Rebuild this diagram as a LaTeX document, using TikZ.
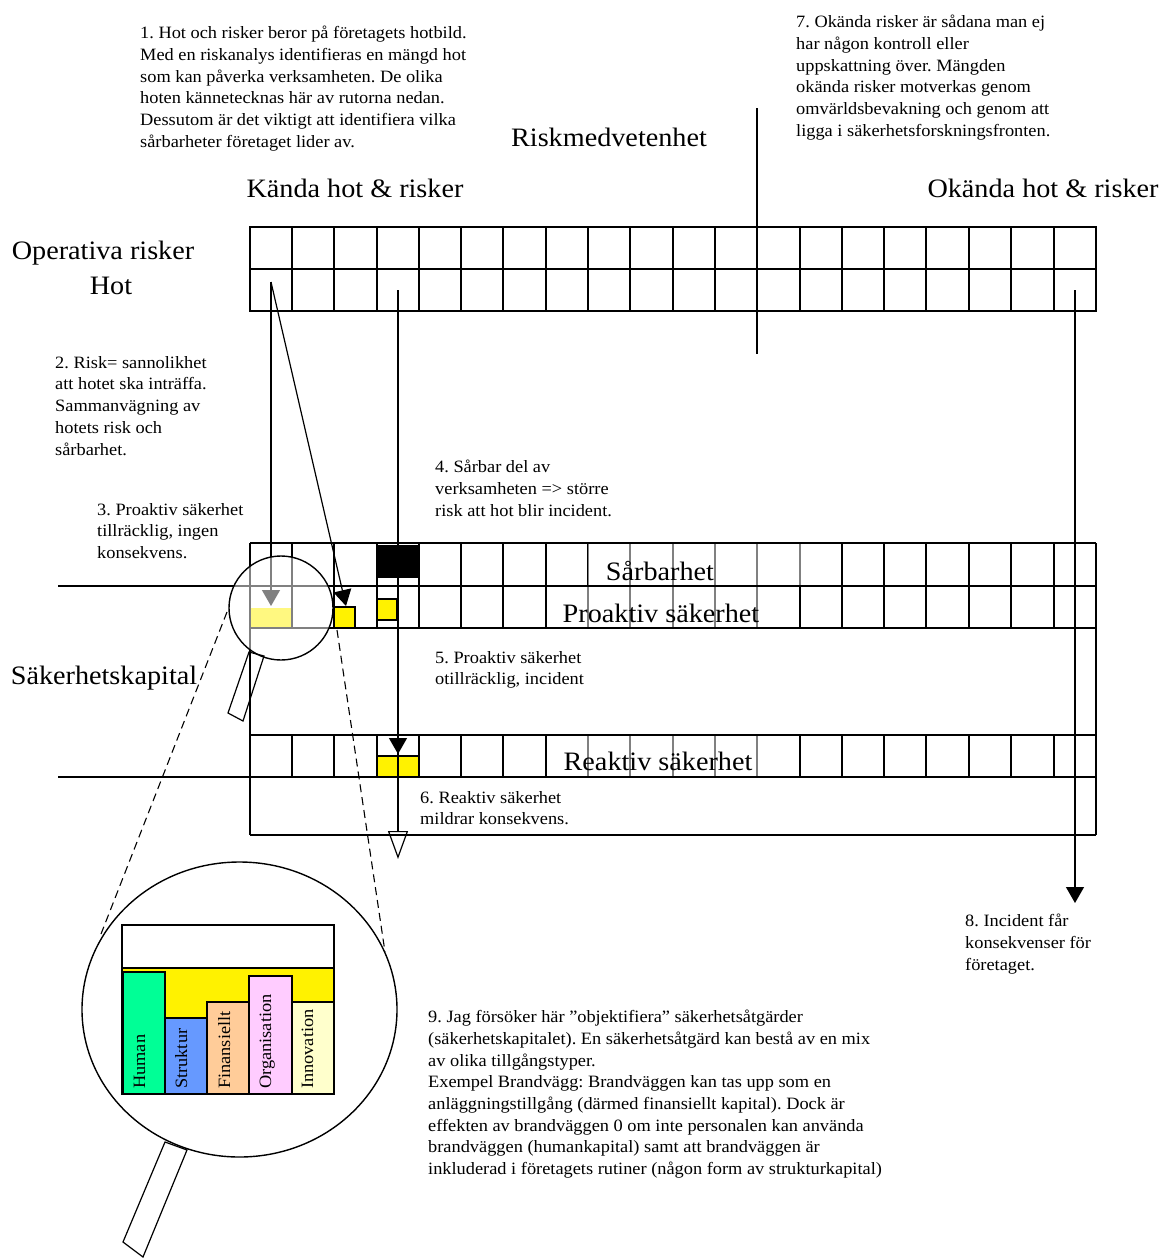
\documentclass[tikz,border=0pt]{standalone}
\usepackage{fontspec}
\setmainfont[FakeStretch=1.06]{Liberation Serif}
\newfontfamily\txtfont[FakeStretch=1.06]{Liberation Serif}
\usetikzlibrary{arrows.meta}
\definecolor{hgreen}{RGB}{0,255,150}
\definecolor{sblue}{RGB}{102,153,255}
\definecolor{fpeach}{RGB}{255,204,153}
\definecolor{opink}{RGB}{255,204,255}
\definecolor{iyellow}{RGB}{255,255,204}
\begin{document}
\frenchspacing
\begin{tikzpicture}[x=1pt,y=-1pt,
  gridline/.style={line width=1.8pt},
  small/.style={font=\txtfont\fontsize{17.3}{21.7}\selectfont, align=left, inner sep=0pt, anchor=north west},
  big/.style={font=\txtfont\fontsize{26.6}{30}\selectfont, inner sep=0pt},
  arr/.style={line width=1.2pt,-{Triangle[length=16pt,width=18pt]}},
  openarr/.style={line width=1.2pt,-{Triangle[open,length=28pt,width=20pt]}},
  barlabel/.style={font=\txtfont\fontsize{17.3}{20}\selectfont, rotate=90, anchor=base west, inner sep=0pt},
  dashline/.style={dash pattern=on 8pt off 5pt, line width=1.1pt},
  bar/.style={draw, line width=1.4pt},
]
\useasboundingbox (0,0) rectangle (1169,1259);
\fill[white] (0,0) rectangle (1169,1259);

% ---------- coloured cells ----------
\fill[black] (377,545) rectangle (419,578);
\draw[fill=yellow, line width=1.4pt] (334,607) rectangle (355,628);
\draw[fill=yellow, line width=1.4pt] (377,599) rectangle (397,620);
\fill[yellow] (250,608) rectangle (292,628);
\draw[fill=yellow, line width=1.4pt] (377,756) rectangle (419,777);

% ---------- top grid ----------
\draw[gridline] (250,227) rectangle (1096,311);
\draw[gridline] (250,269) -- (1096,269);
\foreach \xx in {292,334,377,419,461,503,546,588,630,673,715,757,800,842,884,926,969,1011,1054}
  \draw[gridline] (\xx,227) -- (\xx,311);

% ---------- middle grid ----------
\foreach \yy in {543,586,628,735,777,835} \draw[gridline] (250,\yy) -- (1096,\yy);
\draw[gridline] (250,543) -- (250,835);
\draw[gridline] (1096,543) -- (1096,835);
\foreach \xx in {292,334,377,419,461,503,546,588,630,673,715,757,800,842,884,926,969,1011,1054} {
  \draw[gridline] (\xx,543) -- (\xx,628);
  \draw[gridline] (\xx,735) -- (\xx,777);
}
\draw[gridline] (58,586) -- (250,586);
\draw[gridline] (58,777) -- (250,777);

% axis line
\coordinate (axT) at (757,108);
\coordinate (axB) at (757,354);
\draw[line width=1.6pt] (axT) -- (axB);

% ---------- arrows ----------
\coordinate (s1) at (271,282);
\coordinate (e1) at (271,606);
\coordinate (e2) at (346,606);
\coordinate (s3) at (398,290);
\coordinate (m3a) at (398,700);
\coordinate (m3) at (398,754);
\coordinate (e3) at (398,859);
\coordinate (s4) at (1075,290);
\coordinate (e4) at (1075,903);
\draw[arr] (s1) -- (e1);
\draw[arr] (s1) -- (e2);
\draw[openarr] (s3) -- (e3);
\draw[arr] (m3a) -- (m3);
\draw[arr] (s4) -- (e4);

% faded areas behind labels
\fill[white, opacity=0.5] (588,544) rectangle (815,585);
\fill[white, opacity=0.5] (548,587) rectangle (790,627);
\fill[white, opacity=0.5] (548,736) rectangle (790,776);

% ---------- small magnifier ----------
\coordinate (mc) at (281,608);
\draw[line width=1.4pt, fill=white, fill opacity=0.5] (mc) circle[radius=52];
\draw[line width=1.2pt] (249,652) -- (264,656) -- (243,721) -- (228,713) -- cycle;

% ---------- big magnifier ----------
\coordinate (bc) at (239.5,1009.5);
\draw[line width=1.4pt] (bc) ellipse[x radius=157.5, y radius=147.5];
\draw[line width=1.2pt] (165,1142) -- (187,1150) -- (143,1257) -- (123,1242) -- cycle;
\coordinate (dl1) at (227,612);
\coordinate (dl2) at (101,934);
\coordinate (dr1) at (337,630);
\coordinate (dr2) at (385,952);
\draw[dashline] (dl1) -- (dl2);
\draw[dashline] (dr1) -- (dr2);

% bar chart
\draw[bar, fill=white] (122,925) rectangle (334,1094);
\draw[bar, fill=yellow] (122,968) rectangle (334,1094);
\draw[bar, fill=hgreen] (123,972) rectangle (165,1094);
\draw[bar, fill=sblue] (165,1018) rectangle (207,1094);
\draw[bar, fill=fpeach] (207,1002) rectangle (249,1094);
\draw[bar, fill=opink] (249,976) rectangle (292,1094);
\draw[bar, fill=iyellow] (292,1002) rectangle (334,1094);
\node[barlabel] (bh) at (145,1089) {Human};
\node[barlabel] (bs) at (187,1089) {Struktur};
\node[barlabel] (bf) at (230,1089) {Finansiellt};
\node[barlabel] (bo) at (271,1089) {Organisation};
\node[barlabel] (bi) at (313,1089) {Innovation};

% ---------- big labels ----------
\node[big] (rm) at (609,137) {Riskmedvetenhet};
\node[big] (kh) at (355,188) {Kända hot \& risker};
\node[big] (oh) at (1043,188) {Okända hot \& risker};
\node[big] (or) at (103,253) {Operativa risker};
\node[big] (hot) at (111,286) {Hot};
\node[big] (sk) at (104,678) {Säkerhetskapital};
\node[big] (sb) at (660,571) {Sårbarhet};
\node[big] (ps) at (661,613) {Proaktiv säkerhet};
\node[big] (rs) at (658,761) {Reaktiv säkerhet};

% ---------- small texts ----------
\node[small] (t1) at (140,26) {1. Hot och risker beror på företagets hotbild.\\Med en riskanalys identifieras en mängd hot\\som kan påverka verksamheten. De olika\\hoten kännetecknas här av rutorna nedan.\\Dessutom är det viktigt att identifiera vilka\\sårbarheter företaget lider av.};
\node[small] (t7) at (796,15) {7. Okända risker är sådana man ej\\har någon kontroll eller\\uppskattning över. Mängden\\okända risker motverkas genom\\omvärldsbevakning och genom att\\ligga i säkerhetsforskningsfronten.};
\node[small] (t2) at (55,356) {2. Risk= sannolikhet\\att hotet ska inträffa.\\Sammanvägning av\\hotets risk och\\sårbarhet.};
\node[small] (t3) at (97,503) {3. Proaktiv säkerhet\\tillräcklig, ingen\\konsekvens.};
\node[small] (t4) at (435,460) {4. Sårbar del av\\verksamheten => större\\risk att hot blir incident.};
\node[small] (t5) at (435,651) {5. Proaktiv säkerhet\\otillräcklig, incident};
\node[small] (t6) at (420,791) {6. Reaktiv säkerhet\\mildrar konsekvens.};
\node[small] (t8) at (965,914) {8. Incident får\\konsekvenser för\\företaget.};
\node[small] (t9) at (428,1010) {9. Jag försöker här ”objektifiera” säkerhetsåtgärder\\(säkerhetskapitalet). En säkerhetsåtgärd kan bestå av en mix\\av olika tillgångstyper.\\Exempel Brandvägg: Brandväggen kan tas upp som en\\anläggningstillgång (därmed finansiellt kapital). Dock är\\effekten av brandväggen 0 om inte personalen kan använda\\brandväggen (humankapital) samt att brandväggen är\\inkluderad i företagets rutiner (någon form av strukturkapital)};
\end{tikzpicture}
\end{document}
